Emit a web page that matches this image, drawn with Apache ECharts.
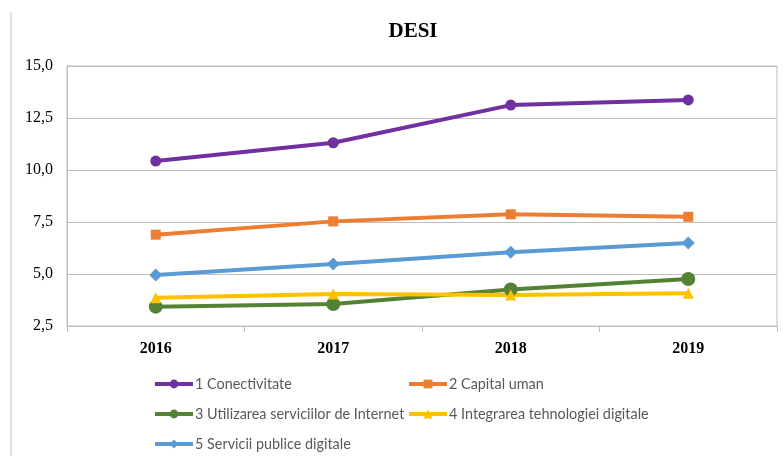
<!DOCTYPE html>
<html>
<head>
<meta charset="utf-8">
<script src="https://cdn.jsdelivr.net/npm/echarts@6/dist/echarts.min.js"></script>
<style>
  html, body { margin: 0; padding: 0; background: #fff; }
  #chart { width: 784px; height: 456px; }
</style>
</head>
<body>
<div id="chart"></div>
<script>
const years = ['2016', '2017', '2018', '2019']
const yTicks = [2.5, 5, 7.5, 10, 12.5, 15]
const conectivitate = [10.43, 11.31, 13.12, 13.37]
const capitalUman = [6.89, 7.53, 7.87, 7.75]
const utilizarea = [3.43, 3.56, 4.26, 4.76]
const integrarea = [3.86, 4.04, 3.99, 4.07]
const servicii = [4.95, 5.48, 6.04, 6.49]

const seriesDefs = [
  { name: '1 Conectivitate', data: conectivitate, color: '#7030A0', symbol: 'circle', size: 11 },
  { name: '2 Capital uman', data: capitalUman, color: '#ED7D31', symbol: 'rect', size: 10 },
  { name: '3 Utilizarea serviciilor de Internet', data: utilizarea, color: '#548235', symbol: 'circle', size: 14 },
  { name: '4 Integrarea tehnologiei digitale', data: integrarea, color: '#FFC000', symbol: 'triangle', size: 11 },
  { name: '5 Servicii publice digitale', data: servicii, color: '#5B9BD5', symbol: 'diamond', size: 13 }
]

// one legend per entry, laid out as a 2-column grid
const legendPos = [[153, 377], [407, 377], [153, 407], [407, 407], [153, 437]]

const chart = echarts.init(document.getElementById('chart'))
chart.setOption({
  animation: false,
  title: {
    text: 'DESI',
    left: 408,
    textAlign: 'center',
    top: 16,
    textStyle: { fontFamily: 'Liberation Serif', fontWeight: 'bold', fontSize: 21, color: '#000' }
  },
  legend: seriesDefs.map((s, i) => ({
    data: [s.name],
    left: legendPos[i][0],
    top: legendPos[i][1],
    padding: 0,
    itemWidth: 38,
    itemHeight: 11,
    itemGap: 0,
    lineStyle: { width: 4 },
    textStyle: { fontFamily: 'Lato', fontSize: 14.4, color: '#595959', padding: [0, 0, 0, -3] }
  })),
  grid: { left: 67, right: 7, top: 66, bottom: 130, show: true, borderColor: '#bfbfbf', borderWidth: 1 },
  xAxis: {
    type: 'category',
    data: years,
    boundaryGap: true,
    axisLine: { lineStyle: { color: '#bfbfbf', width: 1 } },
    axisTick: { show: true, length: 6, lineStyle: { color: '#bfbfbf' } },
    axisLabel: { margin: 15, fontFamily: 'Liberation Serif', fontWeight: 'bold', fontSize: 16, color: '#000' }
  },
  yAxis: {
    type: 'value',
    min: yTicks[0],
    max: yTicks[yTicks.length - 1],
    interval: 2.5,
    axisLine: { show: true, lineStyle: { color: '#bfbfbf' } },
    axisTick: { show: false },
    splitLine: { lineStyle: { color: '#bfbfbf', width: 1 } },
    axisLabel: {
      margin: 14,
      fontFamily: 'Liberation Serif',
      fontSize: 16,
      color: '#000',
      formatter: v => v.toFixed(1).replace('.', ',')
    }
  },
  series: seriesDefs.map(s => ({
    name: s.name,
    type: 'line',
    data: s.data,
    color: s.color,
    symbol: s.symbol,
    symbolSize: s.size,
    showAllSymbol: true,
    lineStyle: { width: 4, color: s.color },
    itemStyle: { color: s.color }
  })),
  graphic: [{
    type: 'line',
    shape: { x1: 11, y1: 12, x2: 11, y2: 456 },
    style: { stroke: '#d9d9d9', lineWidth: 1.5 }
  }]
})
</script>
</body>
</html>
